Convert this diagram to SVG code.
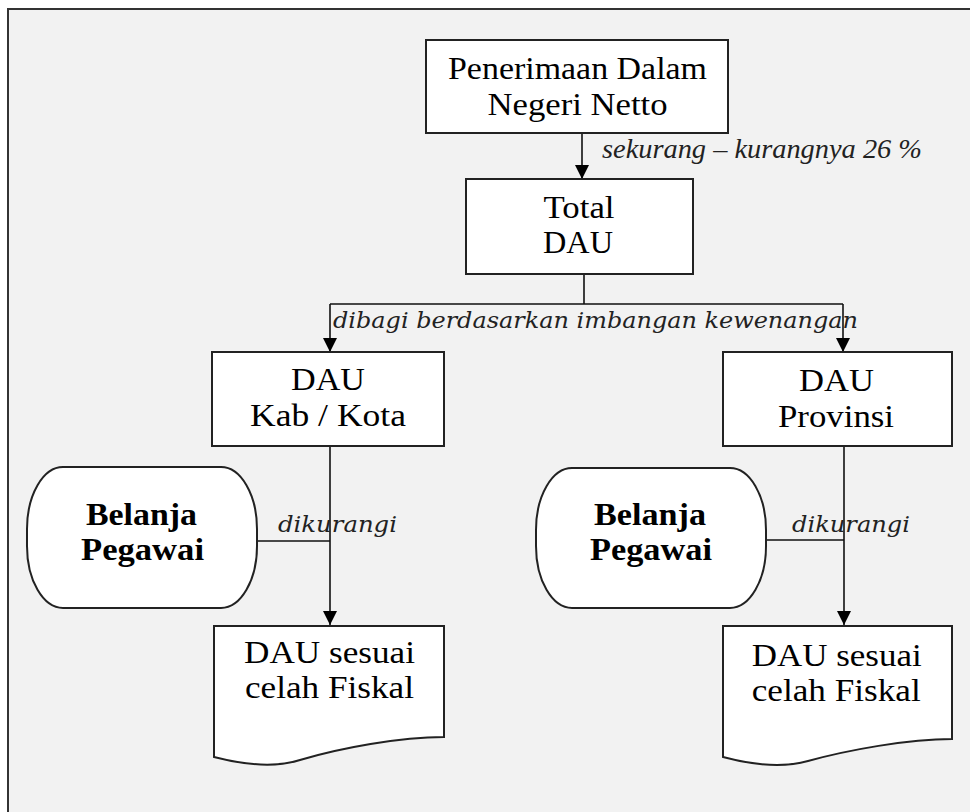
<svg xmlns="http://www.w3.org/2000/svg" width="970" height="812" viewBox="0 0 970 812">
<defs>
<marker id="ah" markerUnits="userSpaceOnUse" markerWidth="14" markerHeight="14" refX="14" refY="7" orient="auto">
<path d="M0,0 L14,7 L0,14 Z" fill="#000"/>
</marker>
<style>
.box{fill:#fff;stroke:#222;stroke-width:2}
.t{font-family:"Liberation Serif","Times New Roman",serif;font-size:31px;fill:#000;text-anchor:middle}
.b{font-family:"Liberation Serif","Times New Roman",serif;font-size:32px;font-weight:bold;fill:#000;text-anchor:middle}
.lbl{font-family:"DejaVu Serif",serif;font-style:italic;font-size:23px;fill:#222}
.lbl2{font-family:"Liberation Serif",serif;font-style:italic;font-size:28px;fill:#222}
.ln{fill:none;stroke:#111;stroke-width:1.6}
</style>
</defs>
<rect x="0" y="0" width="970" height="812" fill="#fff"/>
<rect x="8" y="9" width="980" height="830" fill="#f2f2f2" stroke="#333" stroke-width="2"/>

<g id="connectors">
<path class="ln" d="M582,133 V179" marker-end="url(#ah)"/>
<path class="ln" d="M584,274 V304 M330,304 H843"/>
<path class="ln" d="M330,304 V352" marker-end="url(#ah)"/>
<path class="ln" d="M843,304 V352" marker-end="url(#ah)"/>
<path class="ln" d="M330,446 V625" marker-end="url(#ah)"/>
<path class="ln" d="M844,446 V625" marker-end="url(#ah)"/>
<path class="ln" d="M257,541 H330" stroke-width="2.4"/>
<path class="ln" d="M766,540 H844"/>
<text class="lbl2" x="602" y="158" textLength="320" lengthAdjust="spacingAndGlyphs">sekurang – kurangnya 26 %</text>
<text class="lbl" x="333" y="328" textLength="525" lengthAdjust="spacingAndGlyphs">dibagi berdasarkan imbangan kewenangan</text>
<text class="lbl" x="278" y="532" textLength="119" lengthAdjust="spacingAndGlyphs">dikurangi</text>
<text class="lbl" x="792" y="532" textLength="118" lengthAdjust="spacingAndGlyphs">dikurangi</text>
</g>

<g id="penerimaan">
<rect class="box" x="426" y="40" width="302" height="93"/>
<text class="t" x="577.5" y="79" textLength="259" lengthAdjust="spacingAndGlyphs">Penerimaan Dalam</text>
<text class="t" x="577.5" y="115" textLength="180" lengthAdjust="spacingAndGlyphs">Negeri Netto</text>
</g>

<g id="total-dau">
<rect class="box" x="466" y="179" width="227" height="95"/>
<text class="t" x="579" y="218" textLength="71" lengthAdjust="spacingAndGlyphs">Total</text>
<text class="t" x="578" y="253" textLength="70" lengthAdjust="spacingAndGlyphs">DAU</text>
</g>

<g id="dau-kab">
<rect class="box" x="212" y="352" width="232" height="94"/>
<text class="t" x="328" y="390" textLength="74" lengthAdjust="spacingAndGlyphs">DAU</text>
<text class="t" x="328" y="426" textLength="156" lengthAdjust="spacingAndGlyphs">Kab / Kota</text>
</g>

<g id="dau-prov">
<rect class="box" x="723" y="352" width="229" height="94"/>
<text class="t" x="836.5" y="391" textLength="75" lengthAdjust="spacingAndGlyphs">DAU</text>
<text class="t" x="836" y="427" textLength="116" lengthAdjust="spacingAndGlyphs">Provinsi</text>
</g>

<g id="belanja-kab">
<rect class="box" x="27" y="467" width="230" height="141" rx="36" ry="62"/>
<text class="b" x="141.5" y="525" textLength="111" lengthAdjust="spacingAndGlyphs">Belanja</text>
<text class="b" x="142.5" y="560" textLength="123" lengthAdjust="spacingAndGlyphs">Pegawai</text>
</g>

<g id="belanja-prov">
<rect class="box" x="536" y="468" width="230" height="140" rx="36" ry="62"/>
<text class="b" x="650" y="525" textLength="112" lengthAdjust="spacingAndGlyphs">Belanja</text>
<text class="b" x="651" y="560" textLength="122" lengthAdjust="spacingAndGlyphs">Pegawai</text>
</g>

<g id="dau-celah-kab">
<path class="box" d="M214,626 H444 V737 C 400,737 340,748 300,760 C 275,768 245,765 214,757 Z"/>
<text class="t" x="329.5" y="663" textLength="171" lengthAdjust="spacingAndGlyphs">DAU sesuai</text>
<text class="t" x="329.5" y="698" textLength="169" lengthAdjust="spacingAndGlyphs">celah Fiskal</text>
</g>

<g id="dau-celah-prov">
<path class="box" d="M723,626 H952 V739 C 908,739 848,750 808,761 C 783,768 753,765 723,757 Z"/>
<text class="t" x="836.7" y="666" textLength="170" lengthAdjust="spacingAndGlyphs">DAU sesuai</text>
<text class="t" x="836.2" y="701" textLength="169" lengthAdjust="spacingAndGlyphs">celah Fiskal</text>
</g>
</svg>
